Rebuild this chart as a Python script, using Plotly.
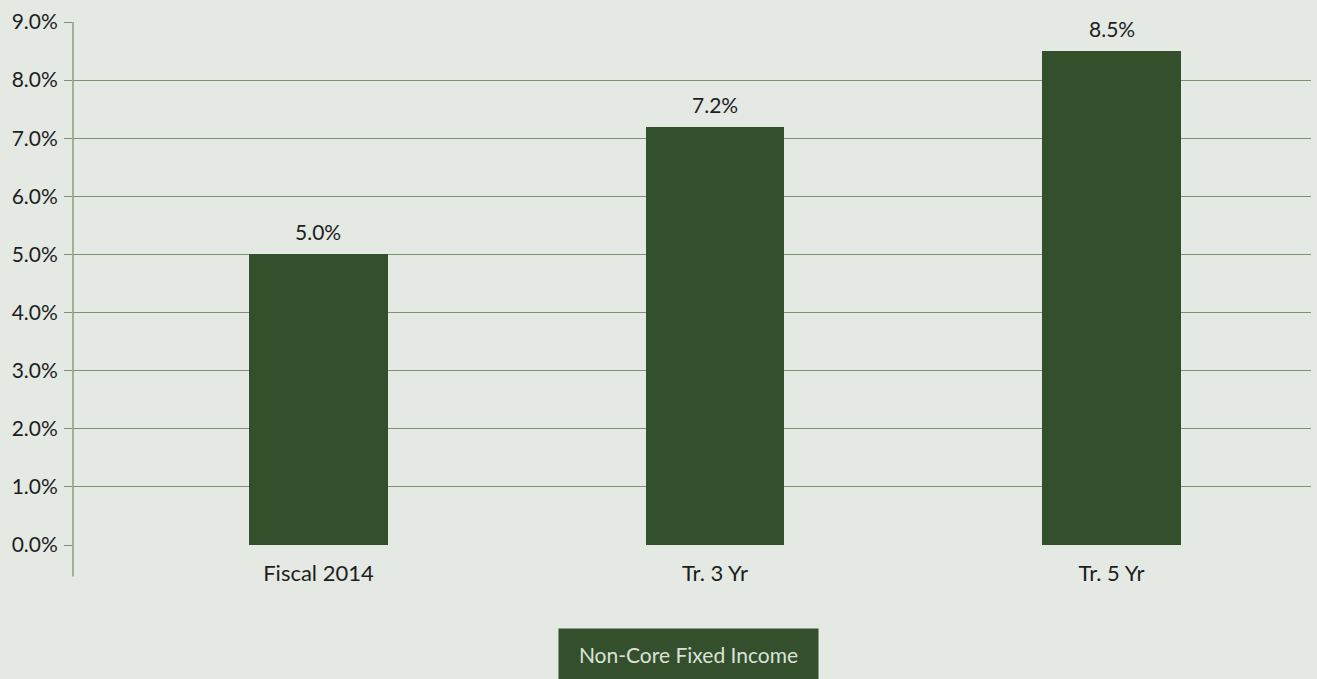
import plotly.graph_objects as go

categories = ["Fiscal 2014", "Tr. 3 Yr", "Tr. 5 Yr"]
values = [5.0, 7.2, 8.5]
series_name = "Non-Core Fixed Income"

BG = "#e4e9e3"
BAR = "#344f2c"
GRID = "#7d9175"
TXT = "#1e1e1e"
FONT = "Lato"

fig = go.Figure()
fig.add_trace(go.Bar(
    x=categories, y=values, name=series_name,
    marker=dict(color=BAR, line=dict(width=0)),
    width=0.35,
    showlegend=False,
))

# value labels above bars
for c, v in zip(categories, values):
    fig.add_annotation(
        x=c, y=v, xref="x", yref="y", text=f"{v:.1f}%",
        showarrow=False, yanchor="bottom", yshift=8,
        font=dict(family=FONT, size=21, color=TXT),
    )

fig.update_layout(
    width=1317, height=679,
    margin=dict(l=73, r=6, t=22, b=134),
    paper_bgcolor=BG, plot_bgcolor=BG,
    font=dict(family=FONT, size=21, color=TXT),
    bargap=0,
    xaxis=dict(
        type="category",
        range=[-0.619, 2.503],
        showline=False, showgrid=False, zeroline=False,
        ticks="", ticklabelstandoff=13,
        tickfont=dict(family=FONT, size=22, color=TXT),
    ),
    yaxis=dict(
        range=[0, 9], dtick=1, tickformat=".1f", ticksuffix="%",
        showgrid=True, gridcolor=GRID, gridwidth=1.3,
        zeroline=False, showline=False,
        ticks="outside", ticklen=8, tickcolor=GRID, tickwidth=1.3,
        ticklabelstandoff=2,
        tickfont=dict(family=FONT, size=21, color=TXT),
    ),
)

# vertical value-axis line extending below the baseline
fig.add_shape(type="line", xref="paper", yref="paper",
              x0=0, x1=0, y0=-0.06, y1=1,
              line=dict(color=GRID, width=1.3), layer="below")

# legend box
fig.add_annotation(
    xref="paper", yref="paper", x=(688.5 - 73) / 1238, y=-(654 - 545) / 523,
    xanchor="center", yanchor="middle", showarrow=False,
    text=series_name,
    font=dict(family=FONT, size=21, color="#dbe1d9"),
    bgcolor=BAR, width=235, height=26, borderpad=12,
)

fig.write_html("out.html")
